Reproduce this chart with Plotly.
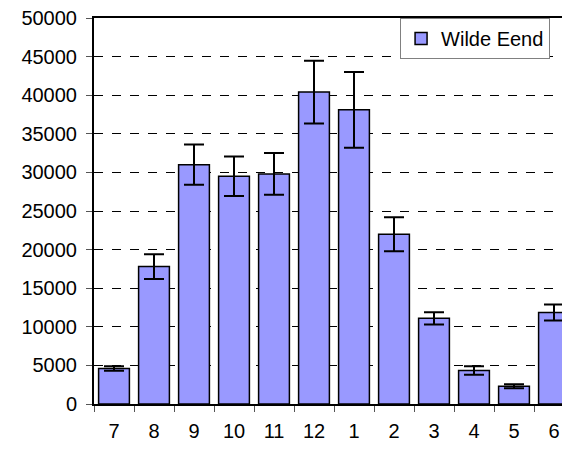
import plotly.graph_objects as go

months = ["7", "8", "9", "10", "11", "12", "1", "2", "3", "4", "5", "6"]
values = [4600, 17800, 31000, 29500, 29800, 40400, 38100, 22000, 11100, 4350, 2300, 11850]
errors = [300, 1600, 2600, 2550, 2700, 4050, 4900, 2200, 800, 550, 270, 1050]
y_ticks = list(range(0, 50001, 5000))
y_tick_labels = [str(v) for v in y_ticks]

fig = go.Figure()
fig.add_trace(go.Bar(
    x=months, y=values, name="Wilde Eend",
    marker=dict(color="#9999FF", line=dict(color="black", width=1.5)),
    error_y=dict(type="data", array=errors, visible=True, color="black", thickness=2, width=10),
    showlegend=True,
))

fig.update_layout(
    width=562, height=441,
    margin=dict(l=86, r=0, t=10, b=45),
    paper_bgcolor="white", plot_bgcolor="white",
    bargap=0.23,
    font=dict(family="Liberation Sans, Arial, sans-serif", size=20, color="black"),
    legend=dict(x=0.643, y=1, xanchor="left", yanchor="top",
                bordercolor="#808080", borderwidth=1, bgcolor="white",
                font=dict(size=20)),
)
fig.update_xaxes(
    type="category", range=[-0.5, 11.4], automargin=False,
    showline=True, linecolor="black", linewidth=2, mirror=True,
    ticks="outside", ticklen=6, tickcolor="#555", tickson="boundaries",
    showgrid=False, ticklabelstandoff=8,
    tickfont=dict(size=20),
)
fig.update_yaxes(
    range=[0, 50000], tickvals=y_ticks, ticktext=y_tick_labels, automargin=False,
    showline=True, linecolor="black", linewidth=2,
    ticks="outside", ticklen=6, tickcolor="#555",
    showgrid=True, gridcolor="black", griddash="dash", gridwidth=1,
    zeroline=False, ticklabelstandoff=5, ticklabeloverflow="allow",
    tickfont=dict(size=20),
)
fig.write_html("out.html")
